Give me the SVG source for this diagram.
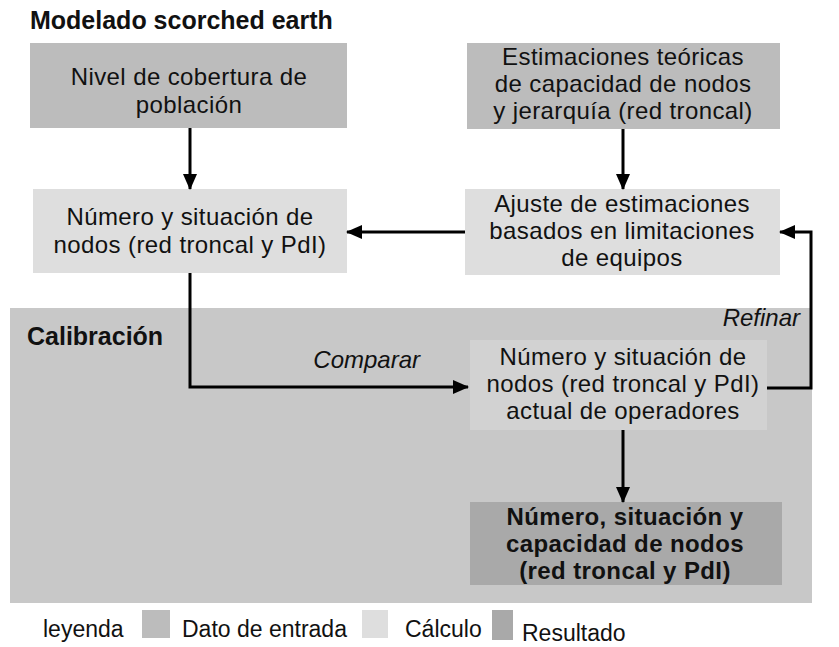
<svg xmlns="http://www.w3.org/2000/svg" width="839" height="647" viewBox="0 0 839 647">
<defs>
<style>
.t{font-family:"Liberation Sans",Arial,sans-serif;font-size:24px;letter-spacing:0.4px;fill:#111;text-anchor:middle}
.b{font-weight:bold}
.h{font-family:"Liberation Sans",Arial,sans-serif;font-size:25px;font-weight:bold;fill:#111}
.i{font-family:"Liberation Sans",Arial,sans-serif;font-size:24px;font-style:italic;fill:#111;text-anchor:end}
.l{font-family:"Liberation Sans",Arial,sans-serif;font-size:23px;fill:#111}
.in{fill:#bcbcbc}
.calc{fill:#dedede}
.res{fill:#a9a9a9}
.reg{fill:#c8c8c8}
.c{fill:none;stroke:#000;stroke-width:3}
</style>
<marker id="ah" markerUnits="userSpaceOnUse" markerWidth="16" markerHeight="14" refX="15" refY="7" orient="auto">
<path d="M0,0 L16,7 L0,14 z" fill="#000"/>
</marker>
</defs>
<rect width="839" height="647" fill="#fff"/>
<text class="h" x="30" y="29">Modelado scorched earth</text>
<g id="calibracion">
<rect class="reg" x="10" y="308" width="802" height="295"/>
<text class="h" x="27" y="345">Calibración</text>
</g>
<g id="n1">
<rect class="in" x="30" y="43" width="317" height="85"/>
<text class="t" x="189" y="85">Nivel de cobertura de</text>
<text class="t" x="189" y="113">población</text>
</g>
<g id="n2">
<rect class="in" x="467" y="43" width="313" height="86"/>
<text class="t" x="623" y="65">Estimaciones teóricas</text>
<text class="t" x="623" y="92">de capacidad de nodos</text>
<text class="t" x="623" y="119">y jerarquía (red troncal)</text>
</g>
<g id="n3">
<rect class="calc" x="33" y="189" width="314" height="84"/>
<text class="t" x="190" y="225">Número y situación de</text>
<text class="t" x="190" y="253">nodos (red troncal y PdI)</text>
</g>
<g id="n4">
<rect class="calc" x="465" y="189" width="315" height="86"/>
<text class="t" x="622" y="212">Ajuste de estimaciones</text>
<text class="t" x="622" y="239">basados en limitaciones</text>
<text class="t" x="622" y="266">de equipos</text>
</g>
<g id="n5">
<rect x="470" y="340" width="297" height="90" fill="#d2d2d2"/>
<text class="t" x="623" y="365">Número y situación de</text>
<text class="t" x="623" y="392">nodos (red troncal y PdI)</text>
<text class="t" x="623" y="419">actual de operadores</text>
</g>
<g id="n6">
<rect class="res" x="470" y="502" width="312" height="83"/>
<text class="t b" x="625" y="525">Número, situación y</text>
<text class="t b" x="625" y="552">capacidad de nodos</text>
<text class="t b" x="625" y="579">(red troncal y PdI)</text>
</g>
<g id="connectors">
<path class="c" d="M190,128 L190,189" marker-end="url(#ah)"/>
<path class="c" d="M623,129 L623,189" marker-end="url(#ah)"/>
<path class="c" d="M465,232 L347,232" marker-end="url(#ah)"/>
<path class="c" d="M190,273 L190,387 L468,387" marker-end="url(#ah)"/>
<path class="c" d="M767,388 L811,388 L811,232 L780,232" marker-end="url(#ah)"/>
<path class="c" d="M623,430 L623,502" marker-end="url(#ah)"/>
<text class="i" x="420" y="368">Comparar</text>
<text class="i" x="800" y="326">Refinar</text>
</g>
<g id="legend">
<text class="l" x="43" y="637">leyenda</text>
<rect class="in" x="142" y="610" width="28" height="28"/>
<text class="l" x="182" y="637">Dato de entrada</text>
<rect class="calc" x="362" y="610" width="26" height="28"/>
<text class="l" x="405" y="637">Cálculo</text>
<rect class="res" x="492" y="610" width="21" height="30"/>
<text class="l" x="522" y="641">Resultado</text>
</g>
</svg>
